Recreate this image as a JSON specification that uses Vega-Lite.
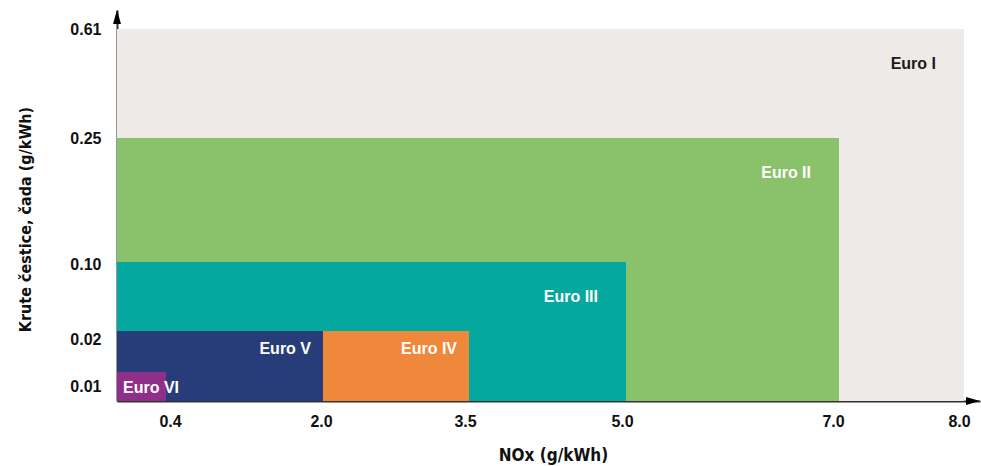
{
  "$schema": "https://vega.github.io/schema/vega-lite/v6.json",
  "width": 864,
  "height": 391,
  "autosize": {"type": "none"},
  "padding": {"left": 117, "top": 10, "right": 0, "bottom": 65},
  "background": "white",
  "config": {
    "view": {"stroke": null},
    "axis": {
      "grid": false,
      "ticks": false,
      "domainColor": "#333333",
      "domainWidth": 2,
      "labelFont": "Liberation Sans",
      "labelFontWeight": "bold",
      "labelFontSize": 16,
      "labelColor": "#111111",
      "titleFont": "DejaVu Sans Condensed, Liberation Sans",
      "titleFontWeight": "bold",
      "titleFontSize": 18,
      "titleColor": "#111111",
      "labelOverlap": false,
      "labelFlush": false,
      "labelBound": false,
      "zindex": 1
    }
  },
  "data": {
    "values": [
      {"standard": "Euro I", "nox": 8.0, "pm": 0.61},
      {"standard": "Euro II", "nox": 7.0, "pm": 0.25},
      {"standard": "Euro III", "nox": 5.0, "pm": 0.10},
      {"standard": "Euro IV", "nox": 3.5, "pm": 0.02},
      {"standard": "Euro V", "nox": 2.0, "pm": 0.02},
      {"standard": "Euro VI", "nox": 0.4, "pm": 0.01}
    ]
  },
  "layer": [
    {
      "mark": {"type": "rect"},
      "encoding": {
        "x": {
          "field": "nox",
          "type": "quantitative",
          "scale": {
            "domain": [0, 0.4, 2, 3.5, 5, 7, 8, 8.15],
            "range": [0, 49, 206, 352, 509, 722, 847, 863],
            "nice": false,
            "zero": false
          },
          "axis": {
            "values": [0.4, 2, 3.5, 5, 7, 8],
            "format": ".1f",
            "labelPadding": 12,
            "title": "NOx (g/kWh)",
            "titleFontSize": 17,
            "titlePadding": 18,
            "titleX": 436,
            "labelOffset": {
              "condition": [
                {"test": "datum.value == 0.4", "value": 4},
                {"test": "datum.value == 2", "value": -2},
                {"test": "datum.value == 3.5", "value": -4},
                {"test": "datum.value == 5", "value": -4},
                {"test": "datum.value == 7", "value": -6},
                {"test": "datum.value == 8", "value": -5}
              ],
              "value": 0
            }
          }
        },
        "x2": {"datum": 0},
        "y": {
          "field": "pm",
          "type": "quantitative",
          "scale": {
            "domain": [0, 0.01, 0.02, 0.1, 0.25, 0.61, 0.7],
            "range": [391, 362, 321, 252, 128, 19, 0],
            "nice": false,
            "zero": false
          },
          "axis": {
            "values": [0.01, 0.02, 0.1, 0.25, 0.61],
            "format": ".2f",
            "labelPadding": 16,
            "title": "Krute čestice, čada (g/kWh)",
            "titleFontSize": 16,
            "titlePadding": 36,
            "titleY": 209,
            "labelOffset": {
              "condition": [
                {"test": "datum.value == 0.01", "value": 14},
                {"test": "datum.value == 0.02", "value": 8},
                {"test": "datum.value == 0.1", "value": 2}
              ],
              "value": 0
            }
          }
        },
        "y2": {"datum": 0},
        "color": {
          "field": "standard",
          "type": "nominal",
          "legend": null,
          "scale": {
            "domain": ["Euro I", "Euro II", "Euro III", "Euro IV", "Euro V", "Euro VI"],
            "range": ["#EEEAE7", "#8AC16B", "#04A89E", "#F0883B", "#273D79", "#8F2F8A"]
          }
        }
      }
    },
    {
      "transform": [{"filter": "indexof(['Euro I','Euro II','Euro III'], datum.standard) >= 0"}],
      "mark": {"type": "text", "align": "right", "baseline": "middle", "dx": -28, "dy": 35, "font": "Liberation Sans", "fontWeight": "bold", "fontSize": 16},
      "encoding": {
        "x": {"field": "nox", "type": "quantitative"},
        "y": {"field": "pm", "type": "quantitative"},
        "text": {"field": "standard"},
        "color": {
          "condition": {"test": "datum.standard == 'Euro I'", "value": "#1a1a1a"},
          "value": "#ffffff"
        }
      }
    },
    {
      "transform": [{"filter": "datum.standard == 'Euro IV' || datum.standard == 'Euro V'"}],
      "mark": {"type": "text", "align": "right", "baseline": "middle", "dx": -12, "dy": 18, "font": "Liberation Sans", "fontWeight": "bold", "fontSize": 16, "color": "#ffffff"},
      "encoding": {
        "x": {"field": "nox", "type": "quantitative"},
        "y": {"field": "pm", "type": "quantitative"},
        "text": {"field": "standard"}
      }
    },
    {
      "transform": [{"filter": "datum.standard == 'Euro VI'"}],
      "mark": {"type": "text", "align": "left", "baseline": "middle", "dx": 6, "dy": 16, "font": "Liberation Sans", "fontWeight": "bold", "fontSize": 16, "color": "#ffffff"},
      "encoding": {
        "x": {"datum": 0, "type": "quantitative"},
        "y": {"field": "pm", "type": "quantitative"},
        "text": {"field": "standard"}
      }
    },
    {
      "data": {"values": [{"axis": "y"}]},
      "mark": {"type": "point", "shape": "M0,0L0.57,2L-0.57,2Z", "size": 196, "filled": true, "color": "#000000", "opacity": 1},
      "encoding": {
        "x": {"datum": 0, "type": "quantitative"},
        "y": {"datum": 0.7, "type": "quantitative"}
      }
    },
    {
      "data": {"values": [{"axis": "x"}]},
      "mark": {"type": "point", "shape": "M0,0L-2,-0.57L-2,0.57Z", "size": 196, "filled": true, "color": "#000000", "opacity": 1},
      "encoding": {
        "x": {"datum": 8.15, "type": "quantitative"},
        "y": {"datum": 0, "type": "quantitative"}
      }
    }
  ]
}
